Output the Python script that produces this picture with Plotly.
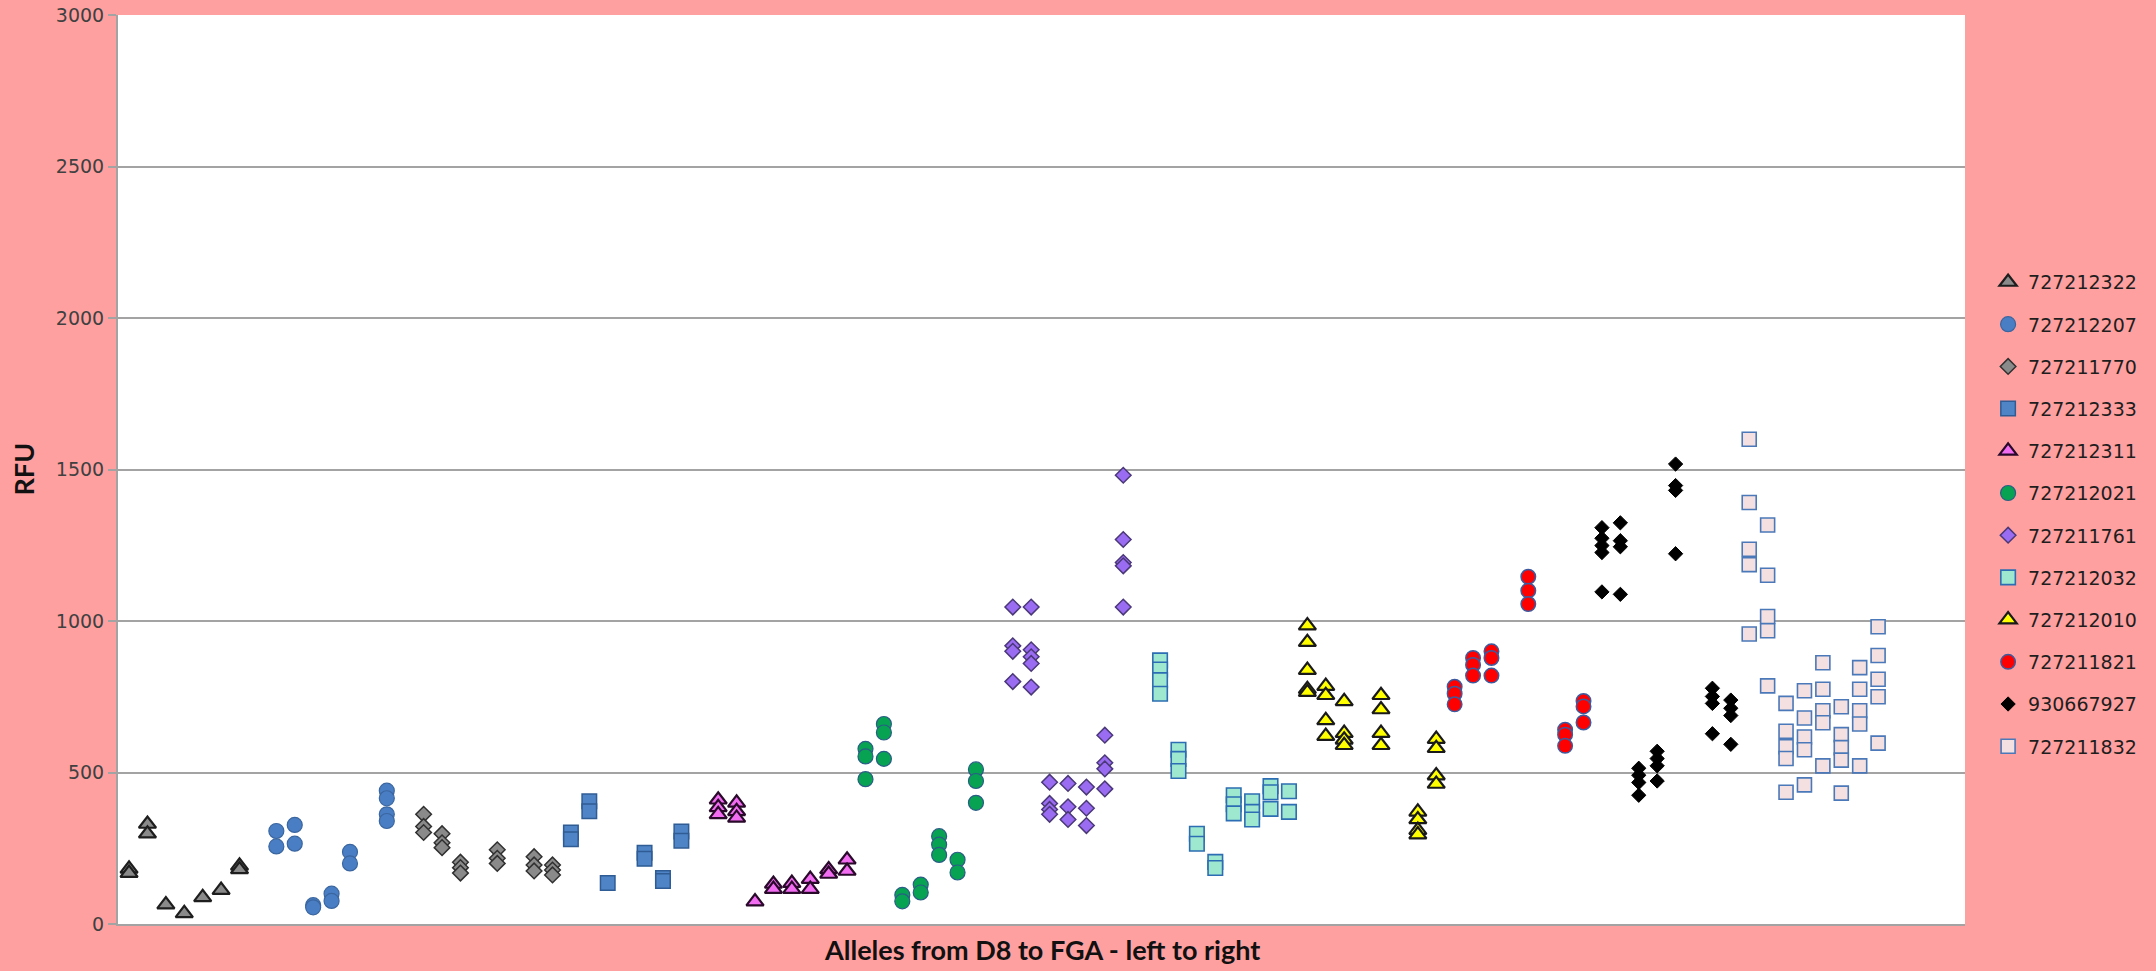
import plotly.graph_objects as go

# Allele positions (D8 ... FGA, left to right) and RFU readings per sample
alleles_727212322 = [1, 1, 2, 2, 3, 4, 5, 6, 7, 7]
rfu_727212322 = [182, 168, 330, 298, 64, 35, 88, 112, 192, 180]

alleles_727212207 = [9, 9, 10, 10, 11, 11, 12, 12, 13, 13, 15, 15, 15, 15]
rfu_727212207 = [307, 256, 327, 265, 62, 55, 100, 76, 238, 200, 440, 415, 362, 340]

alleles_727211770 = [17, 17, 17, 18, 18, 18, 19, 19, 19, 21, 21, 21, 23, 23, 23, 24, 24, 24]
rfu_727211770 = [362, 322, 302, 298, 268, 252, 204, 186, 168, 245, 217, 200, 222, 195, 175, 195, 178, 162]

alleles_727212333 = [25, 25, 26, 26, 27, 29, 29, 30, 30, 31, 31]
rfu_727212333 = [302, 280, 405, 372, 135, 235, 215, 152, 142, 305, 275]

alleles_727212311 = [33, 33, 33, 34, 34, 34, 35, 36, 36, 37, 37, 38, 38, 39, 39, 40, 40]
rfu_727212311 = [410, 385, 362, 400, 372, 350, 74, 132, 115, 135, 115, 148, 115, 180, 165, 212, 175]

alleles_727212021 = [41, 41, 41, 42, 42, 42, 43, 43, 44, 44, 45, 45, 45, 46, 46, 47, 47, 47]
rfu_727212021 = [578, 553, 478, 660, 632, 545, 96, 75, 130, 104, 290, 262, 228, 212, 170, 510, 472, 400]

alleles_727211761 = [49, 49, 49, 49, 50, 50, 50, 50, 50, 51, 51, 51, 51, 52, 52, 52,
                     53, 53, 53, 54, 54, 54, 54, 55, 55, 55, 55, 55]
rfu_727211761 = [1046, 918, 900, 800, 1046, 905, 882, 860, 782, 468, 398, 378, 362, 464, 387, 345,
                 452, 382, 325, 623, 532, 512, 446, 1481, 1269, 1193, 1182, 1046]

alleles_727212032 = [57, 57, 57, 57, 58, 58, 58, 59, 59, 60, 60, 61, 61, 61,
                     62, 62, 62, 63, 63, 63, 64, 64]
rfu_727212032 = [870, 840, 805, 760, 575, 545, 505, 298, 265, 205, 185, 425, 395, 365,
                 405, 370, 345, 455, 435, 380, 438, 370]

alleles_727212010 = [65, 65, 65, 65, 65, 66, 66, 66, 66, 67, 67, 67, 67,
                     69, 69, 69, 69, 71, 71, 71, 71, 72, 72, 72, 72]
rfu_727212010 = [985, 930, 838, 775, 765, 785, 755, 672, 620, 735, 630, 608, 590,
                 755, 708, 630, 590, 370, 345, 310, 295, 610, 580, 490, 462]

alleles_727211821 = [73, 73, 73, 74, 74, 74, 75, 75, 75, 77, 77, 77, 79, 79, 79, 80, 80, 80]
rfu_727211821 = [783, 760, 725, 878, 855, 820, 900, 878, 820, 1146, 1100, 1056, 641, 625, 588, 736, 718, 665]

alleles_930667927 = [81, 81, 81, 81, 81, 82, 82, 82, 82, 83, 83, 83, 83, 84, 84, 84, 84,
                     85, 85, 85, 85, 87, 87, 87, 87, 88, 88, 88, 88]
rfu_930667927 = [1308, 1273, 1249, 1226, 1096, 1324, 1265, 1245, 1088, 514, 491, 467, 425,
                 570, 546, 522, 472, 1518, 1447, 1431, 1222, 778, 751, 728, 628, 739, 712, 688, 593]

alleles_727211832 = [89, 89, 89, 89, 89, 90, 90, 90, 90, 90, 91, 91, 91, 91, 91, 92, 92, 92, 92, 92,
                     93, 93, 93, 93, 93, 94, 94, 94, 94, 94, 95, 95, 95, 95, 95, 96, 96, 96, 96, 96]
rfu_727211832 = [1600, 1391, 1237, 1186, 957, 1317, 1151, 1015, 968, 786, 728, 636, 585, 546, 435,
                 770, 680, 617, 575, 459, 862, 775, 704, 664, 522, 717, 625, 582, 541, 432,
                 846, 775, 704, 660, 522, 981, 886, 808, 750, 597]

series = [
    ("727212322", alleles_727212322, rfu_727212322),
    ("727212207", alleles_727212207, rfu_727212207),
    ("727211770", alleles_727211770, rfu_727211770),
    ("727212333", alleles_727212333, rfu_727212333),
    ("727212311", alleles_727212311, rfu_727212311),
    ("727212021", alleles_727212021, rfu_727212021),
    ("727211761", alleles_727211761, rfu_727211761),
    ("727212032", alleles_727212032, rfu_727212032),
    ("727212010", alleles_727212010, rfu_727212010),
    ("727211821", alleles_727211821, rfu_727211821),
    ("930667927", alleles_930667927, rfu_930667927),
    ("727211832", alleles_727211832, rfu_727211832),
]

# marker symbol, size, fill, outline colour, outline width
styles = {
    "727212322": ("triangle-up", 15, "#8a8a8a", "#1e1e1e", 2.2),
    "727212207": ("circle", 15, "#4a7ec4", "#3a66a0", 1.2),
    "727211770": ("diamond", 12, "#8a8a8a", "#303030", 1.5),
    "727212333": ("square", 14.5, "#4f84c6", "#2f5c94", 1.5),
    "727212311": ("triangle-up", 15, "#f26cf2", "#2a0a2a", 2.2),
    "727212021": ("circle", 15, "#07a352", "#2a5d86", 1.2),
    "727211761": ("diamond", 12, "#9a6cf2", "#4a3878", 1.5),
    "727212032": ("square", 14.5, "#9fe8d0", "#2d6db3", 1.6),
    "727212010": ("triangle-up", 15, "#ffff00", "#1a1a1a", 2.2),
    "727211821": ("circle", 14.5, "#ff0000", "#3d5a9e", 1.5),
    "930667927": ("diamond", 11, "#000000", "#000000", 1.0),
    "727211832": ("square", 14, "#f4e0e0", "#4a78b8", 1.6),
}

fig = go.Figure()
for name, xs, ys in series:
    sym, size, fill, edge, lw = styles[name]
    fig.add_trace(go.Scatter(
        x=xs, y=ys, mode="markers", name=name, legendgroup=name,
        marker=dict(symbol=sym, size=size, color=fill, line=dict(color=edge, width=lw)),
    ))

grid = "#a3a3a3"
fig.update_layout(
    width=2156, height=971,
    margin=dict(l=118, r=191, t=15, b=47, autoexpand=False),
    paper_bgcolor="#ffa0a0",
    plot_bgcolor="#ffffff",
    showlegend=True,
    legend=dict(
        x=1.0125, xanchor="left", y=0.727, yanchor="top",
        font=dict(family="DejaVu Sans, Verdana, sans-serif", size=19, color="#1e1e1e"),
        bgcolor="rgba(0,0,0,0)", tracegroupgap=14.5, itemsizing="trace",
    ),
    xaxis=dict(
        range=[0.4, 100.72], showgrid=False, zeroline=False, showticklabels=False,
        ticks="", showline=True, linecolor=grid, linewidth=2,
    ),
    yaxis=dict(
        range=[0, 3000], dtick=500, showgrid=True, gridcolor=grid, gridwidth=1.5,
        zeroline=False, showline=True, linecolor=grid, linewidth=2,
        ticks="outside", ticklen=8, tickcolor=grid, tickwidth=1.5,
        tickfont=dict(family="DejaVu Sans, Verdana, sans-serif", size=19, color="#404040"),
    ),
    annotations=[
        dict(text="<b>Alleles from D8 to FGA - left to right</b>", xref="paper", yref="paper",
             x=0.5, y=0, yshift=-25, xanchor="center", yanchor="middle", showarrow=False,
             font=dict(family="Lato, Carlito, sans-serif", size=27, color="#111111")),
        dict(text="<b>RFU</b>", xref="paper", yref="paper", x=0, y=0.5, xshift=-95,
             xanchor="center", yanchor="middle", textangle=-90, showarrow=False,
             font=dict(family="Lato, Carlito, sans-serif", size=27, color="#111111")),
    ],
)

fig.write_html("out.html", config={"displayModeBar": False})
